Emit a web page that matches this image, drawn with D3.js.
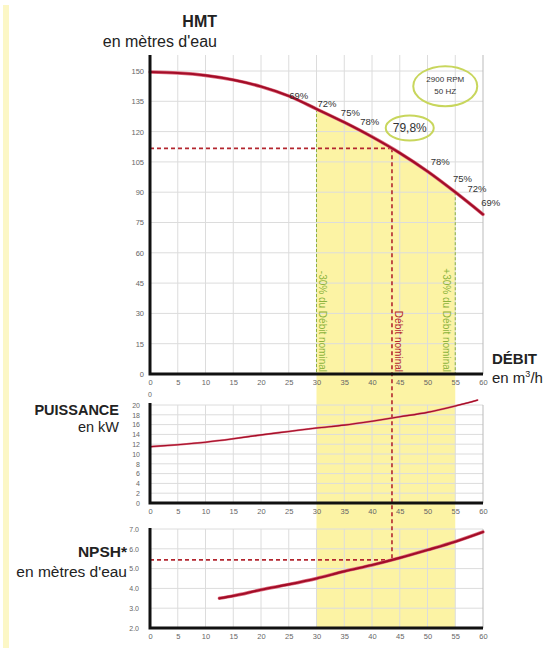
<!DOCTYPE html>
<html>
<head>
<meta charset="utf-8">
<script src="https://cdn.jsdelivr.net/npm/d3@7"></script>
<style>
  html, body { margin: 0; padding: 0; background: #fff; }
  svg { display: block; font-family: Arial, "Liberation Sans", Helvetica, sans-serif; }
</style>
</head>
<body>
<svg id="chart" width="549" height="648"></svg>
<script>
// Pump performance curves: head, power and NPSH against flow rate
const flowTicks = [0, 5, 10, 15, 20, 25, 30, 35, 40, 45, 50, 55, 60];
const headTicks = [0, 15, 30, 45, 60, 75, 90, 105, 120, 135, 150];
const powerTicks = [0, 2, 4, 6, 8, 10, 12, 14, 16, 18, 20];
const npshTicks = [2, 3, 4, 5, 6, 7];

const headFlow = [0, 5, 10, 15, 20, 25, 30, 35, 40, 45, 50, 55, 60];
const headValues = [149.5, 149, 147.8, 145.6, 142.3, 137.6, 131.2, 124.6, 117.4, 109.4, 100.3, 90, 79];

const powerFlow = [0, 5, 10, 15, 20, 25, 30, 35, 40, 45, 50, 55, 59];
const powerValues = [11.5, 11.9, 12.4, 13.1, 13.9, 14.6, 15.3, 15.9, 16.7, 17.6, 18.5, 19.8, 21];

const npshFlow = [12.5, 15, 20, 25, 30, 35, 40, 45, 50, 55, 60];
const npshValues = [3.5, 3.62, 3.93, 4.2, 4.5, 4.86, 5.18, 5.54, 5.94, 6.36, 6.85];

// Nominal operating point and the ±30 % range around it
const nominalFlow = 43.6;
const nominalHead = 111.7;
const nominalNpsh = 5.44;
const rangeFlow = [30, 55];

// Efficiency annotations along the head curve (flow, head where the label sits)
const effLabels = ["69%", "72%", "75%", "78%", "79,8%", "78%", "75%", "72%", "69%"];
const effFlow = [26.8, 31.9, 36.1, 39.6, 46.8, 52.3, 56.3, 58.9, 61.4];
const effHead = [138, 134, 129.7, 124.8, 121.8, 105, 97, 92, 84.7];

const svg = d3.select("#chart");

const x = d3.scaleLinear().domain([0, 60]).range([150, 483]);
const yH = d3.scaleLinear().domain([0, 150]).range([374, 71]);
const yP = d3.scaleLinear().domain([0, 20]).range([503, 405]);
const yN = d3.scaleLinear().domain([2, 7]).range([628, 529]);

const red = "#a30d28";
const green = "#8db33c";
const grid = "#dcdcdc";
const tickColor = "#666";

// pale strip along the left edge
svg.append("rect").attr("x", 3).attr("y", 5).attr("width", 6).attr("height", 643)
  .attr("fill", "#fcf7c6");

const headPts = headFlow.map((f, i) => [f, headValues[i]]);
const lineH = d3.line().x(d => x(d[0])).y(d => yH(d[1])).curve(d3.curveMonotoneX);

// Yellow operating band, bounded above by the head curve
const defs = svg.append("defs");
defs.append("clipPath").attr("id", "underHead")
  .append("path")
  .attr("d", lineH(headPts) + `L${x(60)},${yN(2)}L${x(0)},${yN(2)}Z`);
svg.append("rect")
  .attr("x", x(rangeFlow[0])).attr("width", x(rangeFlow[1]) - x(rangeFlow[0]))
  .attr("y", 0).attr("height", yN(2))
  .attr("fill", "#fcf3a4")
  .attr("clip-path", "url(#underHead)");

// ---------- grids ----------
function drawGrid(yScale, yTicks, yTop) {
  const g = svg.append("g");
  g.selectAll("line.h").data(yTicks).join("line")
    .attr("x1", x(0)).attr("x2", x(60))
    .attr("y1", d => yScale(d)).attr("y2", d => yScale(d))
    .attr("stroke", grid).attr("stroke-width", 1);
  g.selectAll("line.v").data(flowTicks.slice(1)).join("line")
    .attr("x1", d => x(d)).attr("x2", d => x(d))
    .attr("y1", yTop).attr("y2", yScale.range()[0])
    .attr("stroke", d => d === 60 ? "#bbb" : grid).attr("stroke-width", 1);
}
drawGrid(yH, headTicks, 55);
drawGrid(yP, powerTicks, yP(20));
drawGrid(yN, npshTicks, yN(7));

// ---------- range and nominal guides ----------
const headAt = f => headValues[headFlow.indexOf(f)];
svg.selectAll("line.range").data(rangeFlow).join("line")
  .attr("x1", d => x(d)).attr("x2", d => x(d))
  .attr("y1", d => yH(headAt(d))).attr("y2", yH(0))
  .attr("stroke", green).attr("stroke-width", 1).attr("stroke-dasharray", "3,2");

const dash = { stroke: "#b3262f", "stroke-width": 1.6, "stroke-dasharray": "4,3" };
function dashed(x1, y1, x2, y2) {
  const l = svg.append("line").attr("x1", x1).attr("y1", y1).attr("x2", x2).attr("y2", y2);
  Object.entries(dash).forEach(([k, v]) => l.attr(k, v));
}
dashed(x(0), yH(nominalHead), x(nominalFlow), yH(nominalHead));
dashed(x(nominalFlow), yH(nominalHead), x(nominalFlow), yN(nominalNpsh));
dashed(x(0), yN(nominalNpsh), x(nominalFlow), yN(nominalNpsh));

// vertical guide captions
function vText(px, py, txt, color) {
  svg.append("text")
    .attr("transform", `translate(${px},${py}) rotate(90)`)
    .attr("text-anchor", "end").attr("dominant-baseline", "central")
    .attr("font-size", 10).attr("fill", color).text(txt);
}
vText(x(rangeFlow[0]) + 6, 372, "-30% du Débit nominal", green);
vText(x(nominalFlow) + 7, 372, "Débit nominal", "#b3262f");
vText(x(rangeFlow[1]) - 9, 372, "+30% du Débit nominal", green);

// ---------- curves ----------
function curve(path, w1, w2) {
  svg.append("path").attr("d", path).attr("fill", "none")
    .attr("stroke", "#dc6a7c").attr("stroke-width", w1).attr("stroke-linecap", "round");
  svg.append("path").attr("d", path).attr("fill", "none")
    .attr("stroke", red).attr("stroke-width", w2).attr("stroke-linecap", "round");
}
curve(lineH(headPts), 3.4, 2.2);

const lineP = d3.line().x(d => x(d[0])).y(d => yP(d[1])).curve(d3.curveMonotoneX);
curve(lineP(powerFlow.map((f, i) => [f, powerValues[i]])), 2.0, 1.1);

const lineN = d3.line().x(d => x(d[0])).y(d => yN(d[1])).curve(d3.curveMonotoneX);
curve(lineN(npshFlow.map((f, i) => [f, npshValues[i]])), 3.4, 2.2);

// ---------- axes ----------
function axisY(scale, ticks, fmt, size, pad) {
  const g = svg.append("g").attr("transform", `translate(${x(0)},0)`)
    .call(d3.axisLeft(scale).tickValues(ticks).tickFormat(fmt).tickSize(0).tickPadding(pad));
  g.select(".domain").remove();
  g.selectAll("text").attr("font-size", size).attr("fill", tickColor)
    .attr("font-family", "Arial, 'Liberation Sans', sans-serif");
}
axisY(yH, headTicks, d3.format("d"), 7.5, 6);
axisY(yP, powerTicks, d3.format("d"), 7, 10);
axisY(yN, npshTicks, d3.format(".1f"), 7, 11);

function axisX(yPos) {
  const g = svg.append("g").attr("transform", `translate(0,${yPos})`)
    .call(d3.axisBottom(x).tickValues(flowTicks).tickFormat(d3.format("d")).tickSize(0).tickPadding(6));
  g.select(".domain").remove();
  g.selectAll("text").attr("font-size", 7.5).attr("fill", tickColor)
    .attr("font-family", "Arial, 'Liberation Sans', sans-serif");
}
axisX(yH(0));
axisX(yP(0));
axisX(yN(2));

// heavy axis frames
function frame(yTop, yBottom) {
  svg.append("path")
    .attr("d", `M${x(0)},${yTop}V${yBottom}H${x(60)}`)
    .attr("fill", "none").attr("stroke", "#111").attr("stroke-width", 3);
}
frame(55, yH(0));
frame(yP(20) - 2, yP(0));
frame(yN(7) - 1, yN(2));

svg.append("text").attr("x", x(0)).attr("y", 397).attr("text-anchor", "middle")
  .attr("font-size", 7).attr("fill", tickColor).text("0");

// ---------- efficiency annotations ----------
svg.selectAll("text.eff").data(effLabels).join("text")
  .attr("x", (d, i) => x(effFlow[i])).attr("y", (d, i) => yH(effHead[i]))
  .attr("text-anchor", "middle").attr("dominant-baseline", "central")
  .attr("font-size", (d, i) => i === 4 ? 12 : 9.5)
  .attr("fill", "#333").text(d => d);

svg.append("ellipse")
  .attr("cx", x(effFlow[4])).attr("cy", yH(effHead[4]))
  .attr("rx", 24).attr("ry", 12.5)
  .attr("fill", "none").attr("stroke", "#c8d65c").attr("stroke-width", 2);

const rpmFlow = 53.2, rpmHead = 142.5;
svg.append("ellipse")
  .attr("cx", x(rpmFlow)).attr("cy", yH(rpmHead))
  .attr("rx", 32).attr("ry", 20)
  .attr("fill", "none").attr("stroke", "#c8d65c").attr("stroke-width", 2);
svg.append("text").attr("x", x(rpmFlow)).attr("y", yH(rpmHead) - 4)
  .attr("text-anchor", "middle").attr("font-size", 8).attr("fill", "#333").text("2900 RPM");
svg.append("text").attr("x", x(rpmFlow)).attr("y", yH(rpmHead) + 8)
  .attr("text-anchor", "middle").attr("font-size", 8).attr("fill", "#333").text("50 HZ");

// ---------- titles ----------
function title(tx, ty, txt, bold, size, anchor) {
  return svg.append("text").attr("x", tx).attr("y", ty)
    .attr("text-anchor", anchor || "end")
    .attr("font-size", size).attr("font-weight", bold ? "bold" : "normal")
    .attr("fill", "#222").text(txt);
}
title(217, 27, "HMT", true, 16);
title(217, 47, "en mètres d'eau", false, 16);
title(119, 415, "PUISSANCE", true, 14.5);
title(119, 432, "en kW", false, 14.5);
title(127, 557, "NPSH*", true, 15.5);
title(127, 577, "en mètres d'eau", false, 15.5);
title(492, 364, "DÉBIT", true, 15, "start");
const unit = title(492, 383, "en m", false, 15, "start");
unit.append("tspan").attr("font-size", 9).attr("dy", -6).text("3");
unit.append("tspan").attr("dy", 6).text("/h");
</script>
</body>
</html>
